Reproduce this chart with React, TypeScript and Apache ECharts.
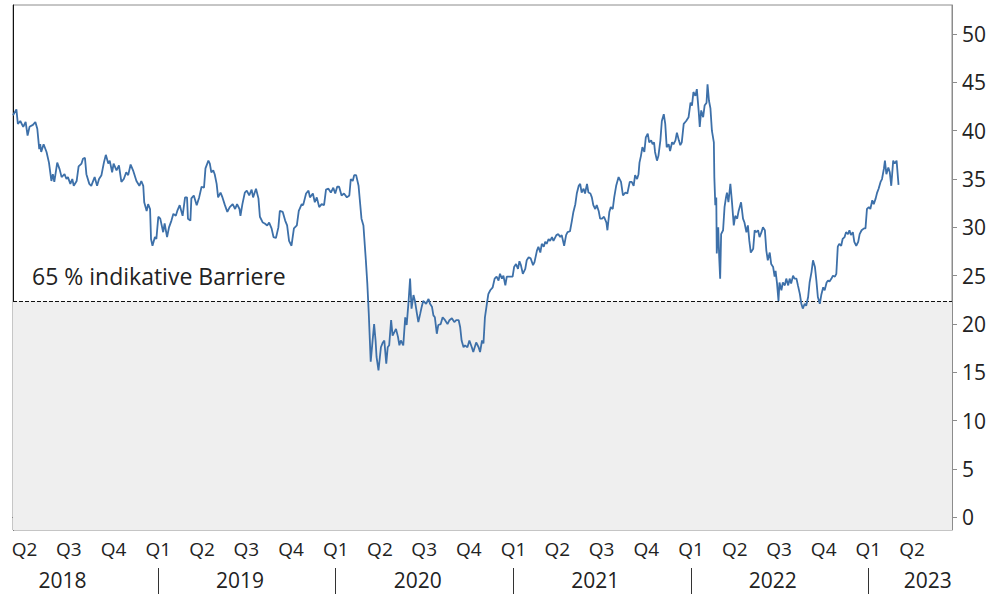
import React, { useEffect, useRef } from "react";
import * as echarts from "echarts";

// Data start date (day offset 0) and axis range
const START_DATE = "2018-03-08";
const X_MIN = "2018-03-08";
const X_MAX = "2023-06-22";
const Y_MIN = -1.3;
const Y_MAX = 53;
const BARRIER = 22.36;
const BARRIER_LABEL = "65 % indikative Barriere";

// [day offset from START_DATE, price]
const prices2018: [number, number][] = [
  [0, 41.6], [7, 42.2], [10, 40.7], [15, 41.0], [21, 40.4], [26, 40.9], [30, 39.5], [34, 40.4], [41, 40.6], [46, 40.9],
  [50, 40.2], [54, 38.1], [56, 38.6], [58, 37.8], [63, 38.6], [69, 37.8], [74, 36.7], [79, 34.8], [82, 35.5], [85, 34.7],
  [91, 36.7], [96, 36.0], [100, 35.2], [106, 35.5], [110, 35.0], [113, 35.2], [118, 34.5], [122, 35.0], [125, 34.3], [131, 34.8],
  [135, 36.3], [141, 36.6], [144, 37.1], [148, 37.2], [151, 35.5], [157, 34.5], [161, 34.3], [168, 35.2], [173, 34.3], [177, 35.0],
  [182, 35.4], [187, 36.7], [191, 37.5], [196, 36.6], [199, 36.9], [204, 35.7], [207, 36.6], [213, 35.9], [218, 36.4], [223, 34.7],
  [228, 35.0], [233, 35.7], [237, 35.4], [242, 36.5], [247, 35.9], [254, 34.8], [260, 34.3], [264, 34.8], [268, 34.3], [270, 32.6],
  [275, 31.7], [278, 32.4], [282, 31.9], [284, 28.8], [287, 28.1], [292, 29.0], [295, 28.8], [299, 31.1], [303, 30.9], [309, 29.5],
  [312, 30.4], [317, 29.0], [321, 30.0], [326, 30.7], [330, 31.4], [335, 31.2], [338, 31.7], [343, 32.3],
];

const prices2019: [number, number][] = [
  [349, 31.2], [354, 33.1], [358, 33.1], [360, 30.9], [365, 30.7], [367, 33.0], [372, 33.3], [378, 32.3], [383, 33.1], [388, 34.2],
  [393, 34.1], [396, 36.1], [402, 36.9], [405, 36.6], [408, 35.7], [412, 35.9], [415, 35.5], [419, 34.5], [422, 33.1], [427, 33.6],
  [431, 33.1], [436, 32.3], [441, 31.6], [446, 32.1], [452, 32.4], [457, 31.9], [461, 32.4], [466, 31.9], [468, 31.2], [472, 32.4],
  [477, 33.6], [481, 33.8], [486, 33.3], [491, 33.9], [494, 33.1], [500, 34.0], [505, 33.0], [508, 31.1], [514, 30.5], [518, 30.4],
  [523, 30.2], [527, 30.5], [532, 29.9], [536, 29.0], [541, 28.9], [546, 30.0], [549, 31.7], [555, 31.6], [560, 30.7], [564, 30.2],
  [568, 28.6], [573, 28.1], [578, 29.9], [584, 30.2], [588, 31.7], [594, 32.4], [597, 32.3], [603, 33.5], [608, 33.8], [611, 33.1],
  [617, 33.5], [621, 32.6], [625, 33.1], [630, 32.1], [635, 32.4], [640, 32.3], [644, 33.9], [649, 34.0], [654, 33.6], [659, 34.1],
  [663, 33.5], [667, 34.2], [671, 34.2], [676, 33.3], [681, 33.5], [687, 33.1], [692, 33.3], [695, 35.0], [699, 34.8], [702, 35.4],
  [706, 35.4], [711, 34.3], [714, 32.6], [717, 30.9], [721, 30.2],
];

const prices2020: [number, number][] = [
  [726, 26.6], [729, 24.2], [732, 21.1], [736, 16.1], [739, 17.8], [743, 20.0], [746, 18.3], [748, 16.6], [752, 15.2], [757, 17.6],
  [761, 18.1], [764, 18.3], [768, 15.9], [771, 17.6], [774, 17.8], [778, 20.4], [781, 18.8], [785, 19.2], [788, 19.5], [792, 18.7],
  [795, 17.8], [798, 18.3], [803, 17.8], [807, 20.7], [810, 19.9], [814, 22.4], [817, 24.7], [820, 21.6], [824, 23.0], [827, 22.4],
  [831, 21.1], [834, 20.2], [838, 21.1], [841, 21.8], [844, 22.4], [850, 22.1], [855, 22.6], [858, 22.1], [862, 21.8], [865, 20.9],
  [868, 20.7], [872, 19.0], [875, 19.9], [880, 20.0], [884, 20.7], [889, 20.4], [894, 20.0], [898, 20.4], [903, 20.6], [908, 20.2],
  [912, 20.4], [917, 20.4], [920, 19.7], [923, 18.3], [927, 17.6], [930, 17.8], [935, 17.6], [939, 18.3], [944, 17.6], [947, 17.1],
  [953, 18.1], [958, 17.6], [961, 17.1], [965, 18.3], [968, 18.0], [971, 20.7], [975, 22.1], [978, 23.1], [982, 23.5], [987, 23.8],
  [991, 24.7], [995, 24.9], [999, 24.5], [1002, 25.2], [1006, 24.7], [1009, 25.0], [1013, 24.0], [1016, 24.9],
];

const prices2021: [number, number][] = [
  [1023, 24.9], [1028, 24.9], [1031, 25.9], [1035, 26.2], [1039, 25.7], [1042, 26.5], [1045, 26.1], [1049, 25.2], [1054, 25.7], [1057, 26.6],
  [1061, 26.9], [1065, 26.8], [1070, 26.1], [1073, 26.4], [1078, 27.6], [1081, 28.0], [1085, 27.4], [1088, 28.3], [1092, 28.0], [1095, 28.5],
  [1098, 28.3], [1102, 28.8], [1105, 28.6], [1109, 29.0], [1112, 28.6], [1118, 29.2], [1122, 29.3], [1126, 29.0], [1129, 29.2], [1134, 28.1],
  [1138, 29.2], [1141, 29.5], [1146, 29.6], [1150, 30.7], [1153, 31.6], [1157, 32.4], [1160, 33.5], [1164, 34.3], [1167, 34.5], [1170, 33.6],
  [1174, 34.0], [1177, 33.5], [1181, 34.5], [1184, 33.6], [1188, 33.5], [1191, 33.1], [1194, 32.3], [1198, 31.9], [1201, 32.3], [1205, 31.7],
  [1208, 30.9], [1212, 30.9], [1216, 31.1], [1221, 30.5], [1223, 29.7], [1227, 31.6], [1230, 32.1], [1234, 31.9], [1237, 33.1], [1241, 34.3],
  [1246, 35.2], [1251, 34.7], [1255, 33.3], [1260, 33.6], [1264, 33.5], [1269, 34.7], [1273, 34.7], [1277, 34.3], [1280, 35.4], [1284, 35.0],
  [1287, 35.5], [1289, 36.7], [1292, 37.4], [1295, 38.3], [1299, 37.8], [1302, 39.3], [1306, 39.7], [1309, 38.8], [1313, 39.0], [1316, 38.6],
  [1319, 38.8], [1321, 37.8], [1325, 36.9], [1328, 37.4], [1332, 39.0], [1335, 41.0], [1339, 41.7], [1342, 40.7], [1345, 38.3], [1349, 38.6],
  [1352, 37.9], [1356, 38.8], [1359, 38.6], [1363, 39.0], [1366, 39.8], [1370, 39.0], [1373, 38.5], [1376, 38.8], [1380, 40.7], [1385, 41.0],
  [1390, 41.4], [1394, 42.9], [1397, 42.6], [1400, 44.0], [1404, 43.6], [1407, 44.3], [1411, 41.9], [1413, 40.4], [1416, 42.1], [1420, 41.4],
  [1423, 42.6], [1427, 42.9], [1429, 44.8], [1432, 43.1], [1435, 42.3], [1438, 40.0], [1442, 38.8],
];

const prices2022: [number, number][] = [
  [1443, 35.2], [1445, 32.3], [1447, 33.1], [1448, 27.3], [1451, 30.0], [1453, 26.9], [1455, 24.7], [1457, 29.3], [1461, 29.7], [1464, 32.1],
  [1467, 33.1], [1469, 33.6], [1472, 32.6], [1476, 34.5], [1479, 32.8], [1483, 30.2], [1486, 31.2], [1490, 30.9], [1493, 31.7], [1498, 32.6],
  [1502, 30.9], [1505, 30.5], [1509, 29.5], [1512, 30.2], [1515, 28.6], [1518, 27.4], [1523, 27.8], [1526, 29.7], [1529, 29.5], [1533, 29.7],
  [1536, 29.0], [1540, 29.5], [1543, 30.0], [1547, 29.7], [1550, 27.6], [1553, 26.6], [1557, 27.4], [1560, 26.2], [1564, 25.9], [1567, 24.9],
  [1569, 25.5], [1572, 24.2], [1575, 22.4], [1577, 24.3], [1581, 23.5], [1584, 24.3], [1588, 24.0], [1591, 24.7], [1595, 24.0], [1598, 24.7],
  [1601, 24.2], [1605, 25.0], [1608, 24.7], [1612, 24.7], [1615, 24.0], [1619, 23.1], [1622, 22.1], [1625, 21.6], [1629, 22.1], [1632, 21.9],
  [1636, 22.8], [1639, 24.3], [1643, 25.4], [1646, 26.6], [1650, 25.9], [1653, 24.5], [1656, 22.8], [1660, 22.1], [1663, 23.0], [1667, 23.8],
  [1670, 23.5], [1674, 24.3], [1677, 24.5], [1680, 24.4], [1684, 24.7], [1687, 25.0], [1691, 24.9], [1694, 25.2], [1697, 28.0], [1700, 28.3],
  [1704, 28.1], [1707, 28.8], [1711, 29.0], [1714, 29.5], [1718, 29.3], [1721, 29.7], [1724, 29.2], [1728, 29.5], [1731, 28.5], [1735, 28.1],
  [1739, 28.5], [1742, 29.3], [1746, 29.7], [1751, 29.9], [1754, 29.9], [1757, 31.9], [1761, 32.1], [1764, 31.9], [1768, 32.8], [1771, 32.4],
  [1775, 33.0], [1778, 33.6], [1781, 34.0], [1785, 34.7], [1788, 35.0], [1792, 36.1], [1794, 36.9], [1797, 35.5], [1801, 36.2], [1804, 35.7],
  [1807, 34.3], [1811, 36.9], [1814, 36.6], [1818, 36.9], [1822, 34.4],
];

const quarterTicks = [
  "2018-04-01", "2018-07-01", "2018-10-01",
  "2019-01-01", "2019-04-01", "2019-07-01", "2019-10-01",
  "2020-01-01", "2020-04-01", "2020-07-01", "2020-10-01",
  "2021-01-01", "2021-04-01", "2021-07-01", "2021-10-01",
  "2022-01-01", "2022-04-01", "2022-07-01", "2022-10-01",
  "2023-01-01", "2023-04-01",
];
const quarterLabels = [
  "Q2", "Q3", "Q4",
  "Q1", "Q2", "Q3", "Q4",
  "Q1", "Q2", "Q3", "Q4",
  "Q1", "Q2", "Q3", "Q4",
  "Q1", "Q2", "Q3", "Q4",
  "Q1", "Q2",
];
const yearSeparators = ["2019-01-01", "2020-01-01", "2021-01-01", "2022-01-01", "2023-01-01"];
const yearLabels = ["2018", "2019", "2020", "2021", "2022", "2023"];
const yearLabelAt = ["2018-06-18", "2019-06-18", "2020-06-18", "2021-06-18", "2022-06-18", "2023-05-03"];
const yTicks = [0, 5, 10, 15, 20, 25, 30, 35, 40, 45, 50];

const FONT = "'Open Sans', 'Noto Sans', sans-serif";
const DAY_MS = 86400000;

export default function App() {
  const ref = useRef<HTMLDivElement>(null);

  useEffect(() => {
    if (!ref.current) return;
    const chart = echarts.init(ref.current, undefined, { renderer: "svg" });
    const base = Date.parse(START_DATE);
    const allPrices = [...prices2018, ...prices2019, ...prices2020, ...prices2021, ...prices2022];
    const lineData = allPrices.map(([d, v]) => [base + d * DAY_MS, v]);

    const qTs = quarterTicks.map((s) => Date.parse(s));
    const qMap = new Map<number, string>();
    qTs.forEach((t, i) => qMap.set(t, quarterLabels[i]));
    const ySepTs = yearSeparators.map((s) => Date.parse(s));
    const yLabTs = yearLabelAt.map((s) => Date.parse(s));
    const yMap = new Map<number, string>();
    yLabTs.forEach((t, i) => yMap.set(t, yearLabels[i]));

    const xMin = Date.parse(X_MIN);
    const xMax = Date.parse(X_MAX);

    chart.setOption({
      animation: false,
      backgroundColor: "#ffffff",
      grid: [
        {
          left: 13,
          right: 53,
          top: 5,
          bottom: 64,
          show: true,
          borderColor: "#8c8c8c",
          borderWidth: 1,
          backgroundColor: "transparent",
          containLabel: false,
          outerBoundsMode: "none",
        },
        {
          left: 13,
          right: 53,
          top: 568,
          height: 26,
          show: false,
          containLabel: false,
          outerBoundsMode: "none",
        },
      ],
      xAxis: [
        {
          type: "value",
          gridIndex: 0,
          position: "bottom",
          min: xMin,
          max: xMax,
          axisLine: { show: true, lineStyle: { color: "#333333", width: 1 } },
          axisTick: { show: true, customValues: qTs, length: 5, lineStyle: { color: "#666666" } },
          axisLabel: {
            customValues: qTs,
            formatter: (v: number) => qMap.get(v) ?? "",
            fontSize: 19,
            color: "#222222",
            fontFamily: FONT,
            margin: 9,
          },
          splitLine: { show: false },
        },
        {
          type: "value",
          gridIndex: 1,
          position: "top",
          min: xMin,
          max: xMax,
          axisLine: { show: false },
          axisTick: { show: false },
          axisLabel: {
            inside: true,
            customValues: yLabTs,
            formatter: (v: number) => yMap.get(v) ?? "",
            fontSize: 21,
            color: "#222222",
            fontFamily: FONT,
            margin: 1,
          },
          splitLine: { show: false },
        },
      ],
      yAxis: [
        {
          type: "value",
          gridIndex: 0,
          position: "right",
          min: Y_MIN,
          max: Y_MAX,
          axisLine: { show: true, lineStyle: { color: "#8c8c8c" } },
          axisTick: { show: true, customValues: yTicks, length: 5, lineStyle: { color: "#8c8c8c" } },
          axisLabel: {
            customValues: yTicks,
            fontSize: 21,
            color: "#222222",
            fontFamily: FONT,
            margin: 10,
          },
          splitLine: { show: false },
        },
        {
          type: "value",
          gridIndex: 0,
          position: "left",
          min: Y_MIN,
          max: Y_MAX,
          axisLine: { show: true, lineStyle: { color: "#111111" } },
          axisTick: { show: false },
          axisLabel: { show: false },
          splitLine: { show: false },
        },
        {
          type: "value",
          gridIndex: 1,
          show: false,
          min: 0,
          max: 1,
        },
      ],
      series: [
        {
          type: "line",
          xAxisIndex: 0,
          yAxisIndex: 0,
          data: lineData,
          showSymbol: false,
          symbol: "none",
          lineStyle: { color: "#3d70a9", width: 1.8 },
          z: 5,
          markArea: {
            silent: true,
            itemStyle: { color: "#efefef" },
            data: [[{ yAxis: Y_MIN }, { yAxis: BARRIER }]],
          },
          markLine: {
            silent: true,
            symbol: "none",
            lineStyle: { color: "#111111", type: [4, 2], width: 1.2 },
            label: {
              show: true,
              position: "insideStartTop",
              formatter: BARRIER_LABEL,
              fontSize: 23,
              color: "#222222",
              fontFamily: FONT,
              distance: [19, 14],
            },
            data: [{ yAxis: BARRIER }],
          },
        },
        {
          // year separators in the lower band, placed on the shared time scale
          type: "line",
          xAxisIndex: 1,
          yAxisIndex: 2,
          data: [],
          silent: true,
          markLine: {
            silent: true,
            symbol: "none",
            label: { show: false },
            lineStyle: { color: "#333333", type: "solid", width: 1 },
            data: ySepTs.map((t) => ({ xAxis: t })),
          },
        },
      ],
    });

    return () => chart.dispose();
  }, []);

  return (
    <div
      ref={ref}
      style={{ position: "fixed", left: 0, top: 0, width: 1005, height: 594, background: "#fff" }}
    />
  );
}
